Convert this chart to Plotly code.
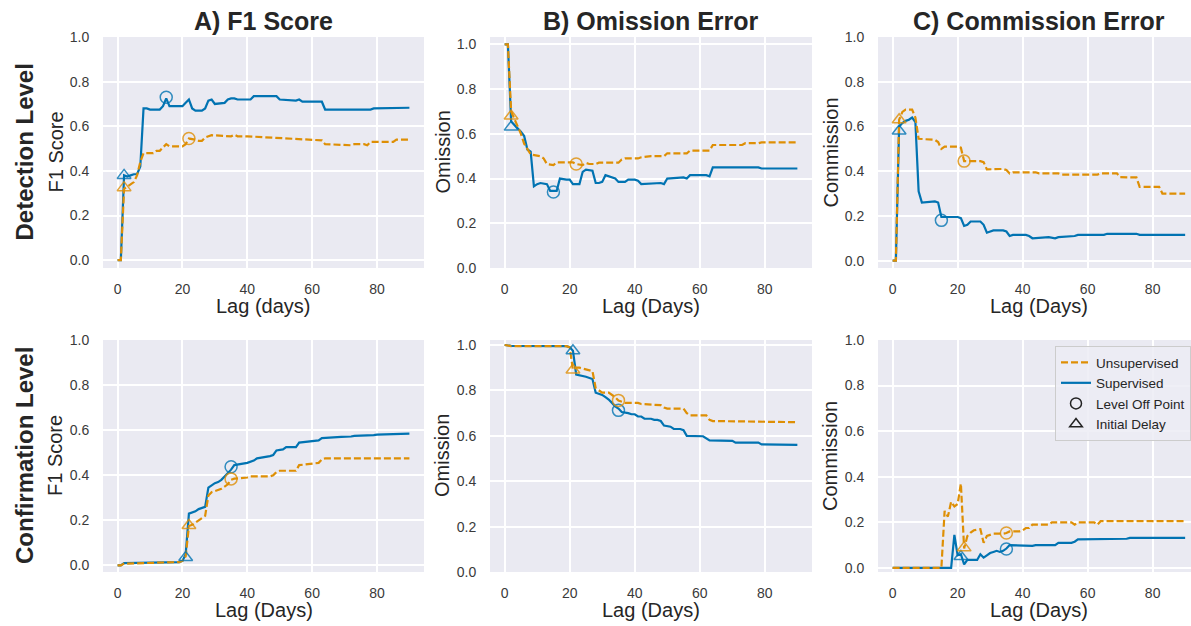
import plotly.graph_objects as go

# ---------------- data ----------------
# Detection level ----------------------------------------------------
f1_det_sup_x = [0, 1, 2, 3, 4, 5, 6, 7, 8, 9, 10, 13, 14, 15, 16, 20, 21, 22, 23, 24, 26, 27, 28, 29, 30, 33, 34, 35, 36, 37, 41, 42, 48, 49, 50, 55, 56, 57, 62, 63, 64, 78, 79, 90]
f1_det_sup_y = [0, 0, 0.38, 0.375, 0.38, 0.385, 0.385, 0.42, 0.68, 0.68, 0.675, 0.675, 0.69, 0.725, 0.69, 0.69, 0.705, 0.72, 0.68, 0.67, 0.67, 0.68, 0.715, 0.72, 0.70, 0.705, 0.72, 0.725, 0.725, 0.72, 0.72, 0.735, 0.735, 0.735, 0.72, 0.715, 0.72, 0.71, 0.71, 0.71, 0.675, 0.675, 0.68, 0.683]
f1_det_uns_x = [0, 1, 2, 3, 4, 5, 6, 7, 8, 11, 12, 13, 14, 15, 16, 20, 21, 22, 24, 25, 26, 27, 29, 35, 36, 37, 40, 47, 62, 63, 64, 72, 73, 76, 77, 78, 85, 86, 90]
f1_det_uns_y = [0, 0, 0.32, 0.33, 0.34, 0.35, 0.38, 0.44, 0.48, 0.48, 0.49, 0.49, 0.505, 0.52, 0.51, 0.51, 0.52, 0.545, 0.54, 0.535, 0.535, 0.55, 0.56, 0.555, 0.562, 0.555, 0.555, 0.55, 0.54, 0.537, 0.52, 0.515, 0.52, 0.52, 0.515, 0.53, 0.53, 0.54, 0.54]

om_det_sup_x = [0, 1, 2, 3, 4, 5, 6, 7, 8, 9, 10, 11, 13, 14, 16, 17, 19, 20, 21, 23, 24, 25, 27, 28, 29, 30, 31, 33, 34, 35, 37, 38, 40, 41, 42, 48, 49, 50, 55, 56, 57, 62, 63, 64, 78, 79, 90]
om_det_sup_y = [1.0, 1.0, 0.655, 0.64, 0.625, 0.61, 0.59, 0.53, 0.52, 0.365, 0.375, 0.38, 0.375, 0.345, 0.345, 0.40, 0.395, 0.395, 0.375, 0.375, 0.43, 0.44, 0.435, 0.38, 0.38, 0.385, 0.415, 0.405, 0.40, 0.385, 0.385, 0.395, 0.395, 0.39, 0.375, 0.38, 0.375, 0.40, 0.405, 0.40, 0.415, 0.415, 0.41, 0.45, 0.45, 0.445, 0.445]
om_det_uns_x = [0, 1, 2, 3, 4, 5, 6, 7, 8, 11, 12, 13, 15, 16, 21, 22, 24, 25, 26, 28, 29, 35, 36, 37, 41, 42, 44, 45, 49, 50, 56, 57, 63, 64, 73, 74, 78, 79, 90]
om_det_uns_y = [1.0, 1.0, 0.70, 0.668, 0.64, 0.60, 0.556, 0.53, 0.508, 0.50, 0.49, 0.465, 0.46, 0.472, 0.472, 0.465, 0.46, 0.47, 0.465, 0.465, 0.471, 0.471, 0.485, 0.49, 0.49, 0.495, 0.50, 0.50, 0.50, 0.513, 0.513, 0.525, 0.525, 0.55, 0.55, 0.558, 0.558, 0.562, 0.562]

com_det_sup_x = [0, 1, 2, 3, 4, 5, 6, 7, 8, 9, 13, 14, 15, 20, 21, 22, 23, 24, 27, 28, 29, 30, 31, 34, 35, 36, 37, 41, 42, 43, 48, 50, 51, 56, 57, 65, 66, 75, 76, 90]
com_det_sup_y = [0, 0, 0.60, 0.615, 0.625, 0.63, 0.64, 0.62, 0.31, 0.26, 0.265, 0.26, 0.195, 0.195, 0.19, 0.155, 0.16, 0.175, 0.175, 0.16, 0.125, 0.13, 0.135, 0.135, 0.13, 0.11, 0.115, 0.115, 0.11, 0.10, 0.105, 0.10, 0.105, 0.11, 0.115, 0.115, 0.12, 0.12, 0.115, 0.115]
com_det_uns_x = [0, 1, 2, 3, 4, 6, 7, 8, 13, 14, 15, 16, 20, 21, 22, 27, 28, 29, 34, 35, 36, 37, 44, 45, 51, 52, 63, 64, 69, 70, 75, 76, 82, 83, 90]
com_det_uns_y = [0, 0, 0.63, 0.665, 0.675, 0.675, 0.64, 0.545, 0.54, 0.53, 0.50, 0.51, 0.51, 0.505, 0.445, 0.445, 0.44, 0.408, 0.41, 0.405, 0.39, 0.395, 0.395, 0.39, 0.39, 0.385, 0.385, 0.39, 0.39, 0.373, 0.372, 0.33, 0.33, 0.30, 0.30]

# Confirmation level -------------------------------------------------
f1_con_sup_x = [0, 1, 2, 18, 19, 20, 21, 22, 23, 24, 25, 26, 27, 28, 29, 30, 31, 32, 33, 34, 35, 36, 39, 40, 42, 43, 47, 48, 49, 51, 52, 55, 56, 60, 62, 63, 68, 69, 72, 73, 79, 80, 90]
f1_con_sup_y = [0, 0.0, 0.01, 0.015, 0.015, 0.02, 0.05, 0.23, 0.235, 0.24, 0.25, 0.255, 0.26, 0.345, 0.355, 0.365, 0.37, 0.38, 0.395, 0.41, 0.425, 0.445, 0.45, 0.455, 0.465, 0.475, 0.485, 0.49, 0.51, 0.515, 0.525, 0.525, 0.545, 0.55, 0.555, 0.565, 0.567, 0.57, 0.572, 0.575, 0.578, 0.58, 0.585]
f1_con_uns_x = [0, 1, 2, 19, 20, 21, 22, 23, 24, 25, 26, 27, 28, 29, 30, 31, 32, 33, 34, 35, 36, 40, 41, 47, 48, 49, 50, 55, 56, 62, 63, 64, 90]
f1_con_uns_y = [0, 0, 0.008, 0.015, 0.02, 0.04, 0.175, 0.18, 0.19, 0.20, 0.21, 0.22, 0.31, 0.325, 0.33, 0.335, 0.34, 0.35, 0.36, 0.38, 0.385, 0.39, 0.395, 0.395, 0.40, 0.415, 0.42, 0.42, 0.445, 0.455, 0.47, 0.475, 0.475]

om_con_sup_x = [0, 1, 2, 19, 20, 21, 22, 25, 26, 27, 28, 30, 31, 32, 33, 34, 35, 36, 38, 39, 40, 41, 42, 43, 45, 46, 47, 48, 49, 51, 52, 54, 55, 56, 61, 62, 63, 70, 71, 78, 79, 90]
om_con_sup_y = [1.0, 0.997, 0.996, 0.995, 0.99, 0.975, 0.87, 0.86, 0.855, 0.85, 0.79, 0.78, 0.77, 0.76, 0.745, 0.73, 0.72, 0.705, 0.70, 0.695, 0.695, 0.685, 0.685, 0.675, 0.675, 0.67, 0.67, 0.665, 0.645, 0.64, 0.63, 0.63, 0.625, 0.60, 0.598, 0.59, 0.58, 0.578, 0.57, 0.57, 0.562, 0.56]
om_con_uns_x = [0, 1, 2, 19, 20, 21, 22, 23, 26, 27, 28, 29, 30, 32, 33, 34, 35, 36, 37, 41, 42, 48, 49, 50, 55, 56, 57, 62, 63, 64, 90]
om_con_uns_y = [1.0, 0.997, 0.995, 0.995, 0.99, 0.89, 0.90, 0.90, 0.89, 0.885, 0.81, 0.80, 0.79, 0.79, 0.78, 0.77, 0.755, 0.75, 0.745, 0.745, 0.74, 0.735, 0.725, 0.72, 0.72, 0.70, 0.69, 0.69, 0.67, 0.665, 0.66]

com_con_sup_x = [0, 18, 19, 20, 21, 22, 23, 26, 27, 28, 29, 30, 31, 32, 33, 34, 35, 36, 43, 44, 50, 51, 55, 56, 57, 65, 66, 72, 73, 90]
com_con_sup_y = [0, 0, 0.145, 0.055, 0.06, 0.015, 0.035, 0.035, 0.06, 0.045, 0.055, 0.065, 0.07, 0.075, 0.07, 0.075, 0.085, 0.10, 0.097, 0.10, 0.10, 0.11, 0.11, 0.115, 0.125, 0.125, 0.128, 0.128, 0.132, 0.132]
com_con_uns_x = [0, 15, 16, 17, 18, 19, 20, 21, 22, 23, 24, 25, 27, 28, 29, 30, 31, 34, 35, 36, 39, 40, 41, 42, 43, 48, 49, 55, 56, 57, 62, 63, 64, 90]
com_con_uns_y = [0, 0, 0.25, 0.225, 0.29, 0.27, 0.28, 0.37, 0.085, 0.14, 0.155, 0.165, 0.17, 0.11, 0.14, 0.145, 0.15, 0.15, 0.153, 0.16, 0.16, 0.165, 0.175, 0.175, 0.19, 0.19, 0.20, 0.20, 0.19, 0.20, 0.20, 0.19, 0.205, 0.205]

# Markers per panel (A-top, B-top, C-top, A-bottom, B-bottom, C-bottom)
level_off_sup_x = [15, 15, 15, 35, 35, 35]
level_off_sup_y = [0.73, 0.34, 0.18, 0.438, 0.712, 0.083]
level_off_uns_x = [22, 22, 22, 35, 35, 35]
level_off_uns_y = [0.545, 0.465, 0.445, 0.384, 0.756, 0.153]
delay_sup_x = [2, 2, 2, 21, 21, 21]
delay_sup_y = [0.38, 0.63, 0.58, 0.035, 0.975, 0.05]
delay_uns_x = [2, 2, 2, 22, 21, 22]
delay_uns_y = [0.325, 0.68, 0.63, 0.177, 0.89, 0.088]

col_titles = ["A) F1 Score", "B) Omission Error", "C) Commission Error"]
row_titles = ["Detection Level", "Confirmation Level"]
y_titles = ["F1 Score", "Omission", "Commission"]
x_titles = [["Lag (days)", "Lag (Days)", "Lag (Days)"], ["Lag (Days)", "Lag (Days)", "Lag (Days)"]]
x_ticks = [0, 20, 40, 60, 80]
y_ticks = [0.0, 0.2, 0.4, 0.6, 0.8, 1.0]

sup_series = [(f1_det_sup_x, f1_det_sup_y), (om_det_sup_x, om_det_sup_y), (com_det_sup_x, com_det_sup_y),
              (f1_con_sup_x, f1_con_sup_y), (om_con_sup_x, om_con_sup_y), (com_con_sup_x, com_con_sup_y)]
uns_series = [(f1_det_uns_x, f1_det_uns_y), (om_det_uns_x, om_det_uns_y), (com_det_uns_x, com_det_uns_y),
              (f1_con_uns_x, f1_con_uns_y), (om_con_uns_x, om_con_uns_y), (com_con_uns_x, com_con_uns_y)]

# ---------------- layout geometry (pixels) ----------------
W, H = 1191, 626
BLUE = "#0173B2"
ORANGE = "#DE8F05"
FONT = "Liberation Sans, Arial, sans-serif"

col_px = [(103, 424), (490, 812), (878, 1191)]
row_px = [(37, 268), (340, 572)]
x_ranges = [[-4.5, 94.5], [-4.5, 94.5], [-4.5, 91.8]]
y_ranges = [[[-0.035, 1.0], [0.0, 1.033], [-0.033, 1.0]],
            [[-0.029, 1.0], [0.0, 1.022], [-0.018, 1.0]]]


def px_x(p):
    return p / W


def px_y(p):
    return 1 - p / H


fig = go.Figure()
layout = dict(
    width=W, height=H,
    margin=dict(l=0, r=0, t=0, b=0, autoexpand=False),
    paper_bgcolor="white",
    plot_bgcolor="#EAEAF2",
    font=dict(family=FONT, color="#333333"),
    showlegend=True,
)

annotations = []
for r in range(2):
    for c in range(3):
        i = r * 3 + c
        n = "" if i == 0 else str(i + 1)
        xa = "xaxis" + n
        ya = "yaxis" + n
        layout[xa] = dict(
            domain=[px_x(col_px[c][0]), px_x(col_px[c][1])],
            range=x_ranges[c], anchor="y" + n,
            tickvals=x_ticks, showgrid=True, gridcolor="white", gridwidth=1.5,
            zeroline=False, showline=False, ticks="outside", ticklen=8,
            tickcolor="rgba(0,0,0,0)", tickfont=dict(size=14, color="#3a3a3a"),
        )
        layout[ya] = dict(
            domain=[px_y(row_px[r][1]), px_y(row_px[r][0])],
            range=y_ranges[r][c], anchor="x" + n,
            tickvals=y_ticks, tickformat=".1f", showgrid=True, gridcolor="white",
            gridwidth=1.5, zeroline=False, showline=False, ticks="outside", ticklen=10,
            tickcolor="rgba(0,0,0,0)", tickfont=dict(size=14, color="#3a3a3a"),
        )
        sx, sy = sup_series[i]
        ux, uy = uns_series[i]
        fig.add_trace(go.Scatter(x=sx, y=sy, mode="lines", line=dict(color=BLUE, width=2.2),
                                 xaxis="x" + n, yaxis="y" + n, showlegend=False))
        fig.add_trace(go.Scatter(x=ux, y=uy, mode="lines",
                                 line=dict(color=ORANGE, width=2.2, dash="7px,3px"),
                                 xaxis="x" + n, yaxis="y" + n, showlegend=False))
        for mx, my, colr, sym in [
            (level_off_sup_x[i], level_off_sup_y[i], BLUE, "circle-open"),
            (level_off_uns_x[i], level_off_uns_y[i], ORANGE, "circle-open"),
            (delay_sup_x[i], delay_sup_y[i], BLUE, "triangle-up-open"),
            (delay_uns_x[i], delay_uns_y[i], ORANGE, "triangle-up-open"),
        ]:
            fig.add_trace(go.Scatter(x=[mx], y=[my], mode="markers",
                                     marker=dict(symbol=sym, size=12, color=colr, opacity=0.8,
                                                 line=dict(width=1.5, color=colr)),
                                     xaxis="x" + n, yaxis="y" + n, showlegend=False))
        # axis titles as annotations
        full_right = col_px[c][0] + (94.5 + 4.5) * (col_px[0][1] - col_px[0][0]) / 99.0
        xc = (col_px[c][0] + full_right) / 2
        yc = (row_px[r][0] + row_px[r][1]) / 2
        annotations.append(dict(text=x_titles[r][c], x=px_x(xc), y=px_y(row_px[r][1] + 38),
                                xref="paper", yref="paper", showarrow=False,
                                xanchor="center", yanchor="middle",
                                font=dict(size=20, color="#262626", family=FONT)))
        annotations.append(dict(text=y_titles[c], x=px_x(col_px[c][0] - 48), y=px_y(yc),
                                xref="paper", yref="paper", showarrow=False, textangle=-90,
                                xanchor="center", yanchor="middle",
                                font=dict(size=20, color="#262626", family=FONT)))
        if r == 0:
            annotations.append(dict(text="<b>%s</b>" % col_titles[c], x=px_x(xc), y=px_y(21),
                                    xref="paper", yref="paper", showarrow=False,
                                    xanchor="center", yanchor="middle",
                                    font=dict(size=25, color="#262626", family=FONT)))

for r in range(2):
    yc = (row_px[r][0] + row_px[r][1]) / 2
    annotations.append(dict(text="<b>%s</b>" % row_titles[r], x=px_x(24), y=px_y(yc),
                            xref="paper", yref="paper", showarrow=False, textangle=-90,
                            xanchor="center", yanchor="middle",
                            font=dict(size=24, color="#262626", family=FONT)))

# legend entries (in the bottom-right panel)
fig.add_trace(go.Scatter(x=[None], y=[None], mode="lines", name="Unsupervised",
                         line=dict(color=ORANGE, width=2.2, dash="7px,3px"), xaxis="x6", yaxis="y6"))
fig.add_trace(go.Scatter(x=[None], y=[None], mode="lines", name="Supervised",
                         line=dict(color=BLUE, width=2.2), xaxis="x6", yaxis="y6"))
fig.add_trace(go.Scatter(x=[None], y=[None], mode="markers", name="Level Off Point",
                         marker=dict(symbol="circle-open", size=11, color="#222222", line=dict(width=1.5)),
                         xaxis="x6", yaxis="y6"))
fig.add_trace(go.Scatter(x=[None], y=[None], mode="markers", name="Initial Delay",
                         marker=dict(symbol="triangle-up-open", size=11, color="#222222", line=dict(width=1.5)),
                         xaxis="x6", yaxis="y6"))

layout["legend"] = dict(x=px_x(1055), y=px_y(346), xanchor="left", yanchor="top",
                        bgcolor="rgba(236,236,244,0.85)", bordercolor="#cccccc", borderwidth=1,
                        font=dict(size=13.5, color="#262626", family=FONT), tracegroupgap=0)
layout["annotations"] = annotations
fig.update_layout(**layout)
fig.write_html("out.html", config={"displayModeBar": False},
               post_script="document.body.style.margin='0';document.body.style.overflow='hidden';")
